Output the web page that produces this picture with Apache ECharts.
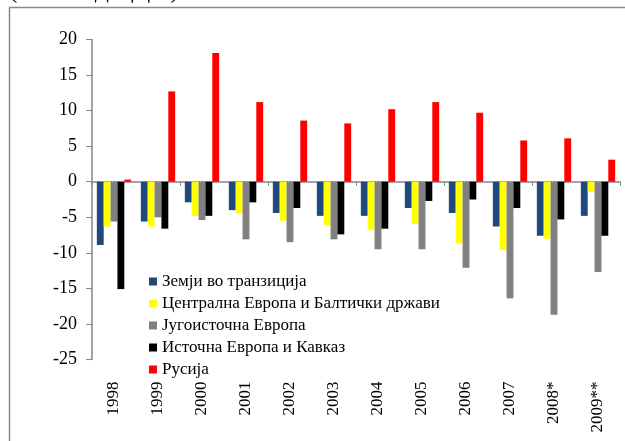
<!DOCTYPE html>
<html><head><meta charset="utf-8">
<script src="https://cdn.jsdelivr.net/npm/echarts@6/dist/echarts.min.js"></script>
<style>html,body{margin:0;padding:0;background:#fff}#c{width:625px;height:441px}</style>
</head><body><div id="c"></div>
<script>
var categories = ['1998','1999','2000','2001','2002','2003','2004','2005','2006','2007','2008*','2009**'];
var seriesNames = ['Земји во транзиција','Централна Европа и Балтички држави','Југоисточна Европа','Источна Европа и Кавказ','Русија'];
var transition = [-8.9,-5.6,-2.9,-4.0,-4.4,-4.8,-4.8,-3.7,-4.4,-6.3,-7.6,-4.8];
var centralBaltic = [-6.3,-6.3,-4.8,-4.4,-5.5,-6.1,-6.8,-5.9,-8.7,-9.6,-8.0,-1.4];
var southEast = [-5.6,-5.0,-5.4,-8.1,-8.5,-8.1,-9.5,-9.5,-12.1,-16.4,-18.7,-12.7];
var easternCaucasus = [-15.1,-6.6,-4.8,-2.9,-3.7,-7.4,-6.6,-2.7,-2.5,-3.7,-5.3,-7.6];
var russia = [0.3,12.7,18.1,11.2,8.6,8.2,10.2,11.2,9.7,5.8,6.1,3.1];
var colors = ['#1F497D','#FFFF00','#808080','#000000','#FF0000'];
var titleText = '(во % од БДП)';

var font = 'Liberation Serif';
var values = [transition, centralBaltic, southEast, easternCaucasus, russia];
var chart = echarts.init(document.getElementById('c'), null, {renderer:'canvas'});
chart.setOption({
  animation: false,
  color: colors,
  graphic: [
    {type:'rect', shape:{x:9.5, y:7.5, width:700, height:500}, style:{fill:'none', stroke:'#8a8a8a', lineWidth:1.5}, z:-1},
    {type:'text', left:8, top:-24, style:{text:titleText, font:'28px "Liberation Serif"', fill:'#000'}}
  ],
  grid: {left:92, right:5, top:39.5, bottom:81.5},
  legend: {
    orient:'vertical', left:149, top:273, padding:0, itemGap:5,
    itemWidth:8, itemHeight:8, icon:'rect',
    textStyle:{fontFamily:font, fontSize:17, color:'#000', lineHeight:17},
    data: seriesNames
  },
  xAxis: [
    {type:'category', data:categories, position:'bottom',
     axisLine:{onZero:true, lineStyle:{color:'#868686', width:1.5}},
     axisTick:{show:true, length:4, lineStyle:{color:'#868686'}},
     axisLabel:{show:false}},
    {type:'category', data:categories, position:'bottom',
     axisLine:{show:false}, axisTick:{show:false},
     axisLabel:{rotate:90, margin:22, fontFamily:font, fontSize:17, color:'#000'}}
  ],
  yAxis: {type:'value', min:-25, max:20, interval:5,
    splitLine:{show:false},
    axisLine:{show:true, lineStyle:{color:'#868686', width:1.5}},
    axisTick:{show:true, length:6, lineStyle:{color:'#868686'}},
    axisLabel:{margin:15, fontFamily:font, fontSize:18, color:'#000'}},
  series: seriesNames.map(function(n,i){
    return {name:n, type:'bar', xAxisIndex:0, data:values[i], barGap:'0%', barCategoryGap:'22%',
      itemStyle:{color:colors[i]}};
  })
});
</script></body></html>
